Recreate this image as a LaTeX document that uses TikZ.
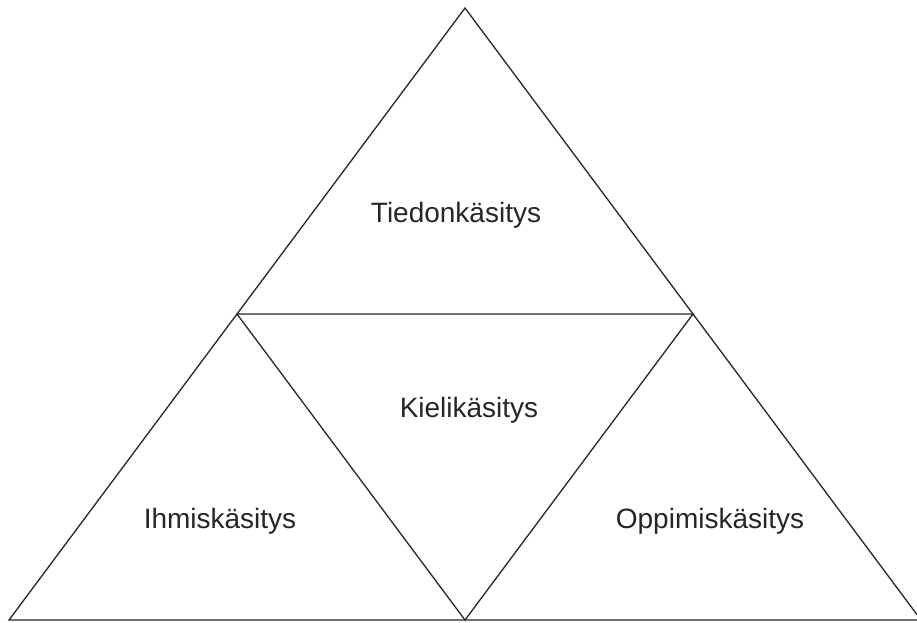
\documentclass[tikz,border=0pt]{standalone}
\usepackage{fontspec}
\setmainfont{Liberation Sans}
\begin{document}
\begin{tikzpicture}[x=1pt,y=-1pt,
  edge/.style={draw=black!85,line width=1.3pt},
  label/.style={anchor=base,inner sep=0pt,font=\fontsize{28}{34}\selectfont,text=black!85}]
\useasboundingbox (0,0) rectangle (917,622);
\clip (0,0) rectangle (917,622);
% corners of the big triangle and midpoints of its sides
\coordinate (top) at (465,8);
\coordinate (bl) at (9,620);
\coordinate (br) at (921,620);
\coordinate (ml) at (237,314);
\coordinate (mr) at (693,314);
\coordinate (mb) at (465,620);
\draw[edge] (top) -- (bl) -- (br) -- cycle;
\draw[edge] (ml) -- (mr) -- (mb) -- cycle;
\node[label] (tieto) at (456,222) {Tiedonkäsitys};
\node[label] (kieli) at (469,417) {Kielikäsitys};
\node[label] (ihminen) at (220,528) {Ihmiskäsitys};
\node[label] (oppi) at (710,528) {Oppimiskäsitys};
\end{tikzpicture}
\end{document}
